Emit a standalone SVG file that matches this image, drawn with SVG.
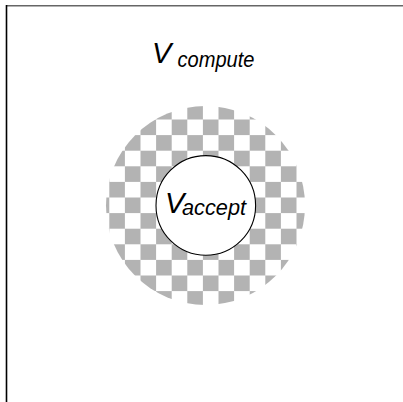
<svg xmlns="http://www.w3.org/2000/svg" width="403" height="402" viewBox="0 0 403 402">
  <style>
    .lbl { font-family: "Liberation Sans", Arial, sans-serif; font-style: italic; fill: #000; }
    .big { font-size: 29px; }
    .sub { font-size: 22px; }
  </style>
  <defs>
    <!-- grey/white checkerboard fill for the outer region -->
    <pattern id="checker" patternUnits="userSpaceOnUse" x="187.3" y="103.9" width="31.2" height="31.2">
      <rect x="0" y="0" width="31.2" height="31.2" fill="#fff"/>
      <rect x="0" y="0" width="15.6" height="15.6" fill="#b3b3b3"/>
      <rect x="15.6" y="15.6" width="15.6" height="15.6" fill="#b3b3b3"/>
    </pattern>
  </defs>

  <rect width="403" height="402" fill="#fff"/>

  <!-- frame edges -->
  <line x1="6" y1="5.8" x2="403" y2="5.8" stroke="#666" stroke-width="1.5"/>
  <line x1="6.5" y1="5" x2="6.5" y2="402" stroke="#000" stroke-width="1.6"/>

  <g id="compute">
    <circle cx="205.5" cy="205.5" r="99.5" fill="url(#checker)"/>
    <text class="lbl big" x="152" y="62.5">V</text>
    <text class="lbl sub" x="177.5" y="67" textLength="77" lengthAdjust="spacingAndGlyphs">compute</text>
  </g>

  <g id="accept">
    <circle cx="205.8" cy="205.4" r="49.8" fill="#fff" stroke="#000" stroke-width="1.1"/>
    <text class="lbl big" x="165" y="212.5">V</text>
    <text class="lbl sub" x="182" y="214.5" textLength="64" lengthAdjust="spacingAndGlyphs">accept</text>
  </g>

  <g id="connectors"/>
</svg>
